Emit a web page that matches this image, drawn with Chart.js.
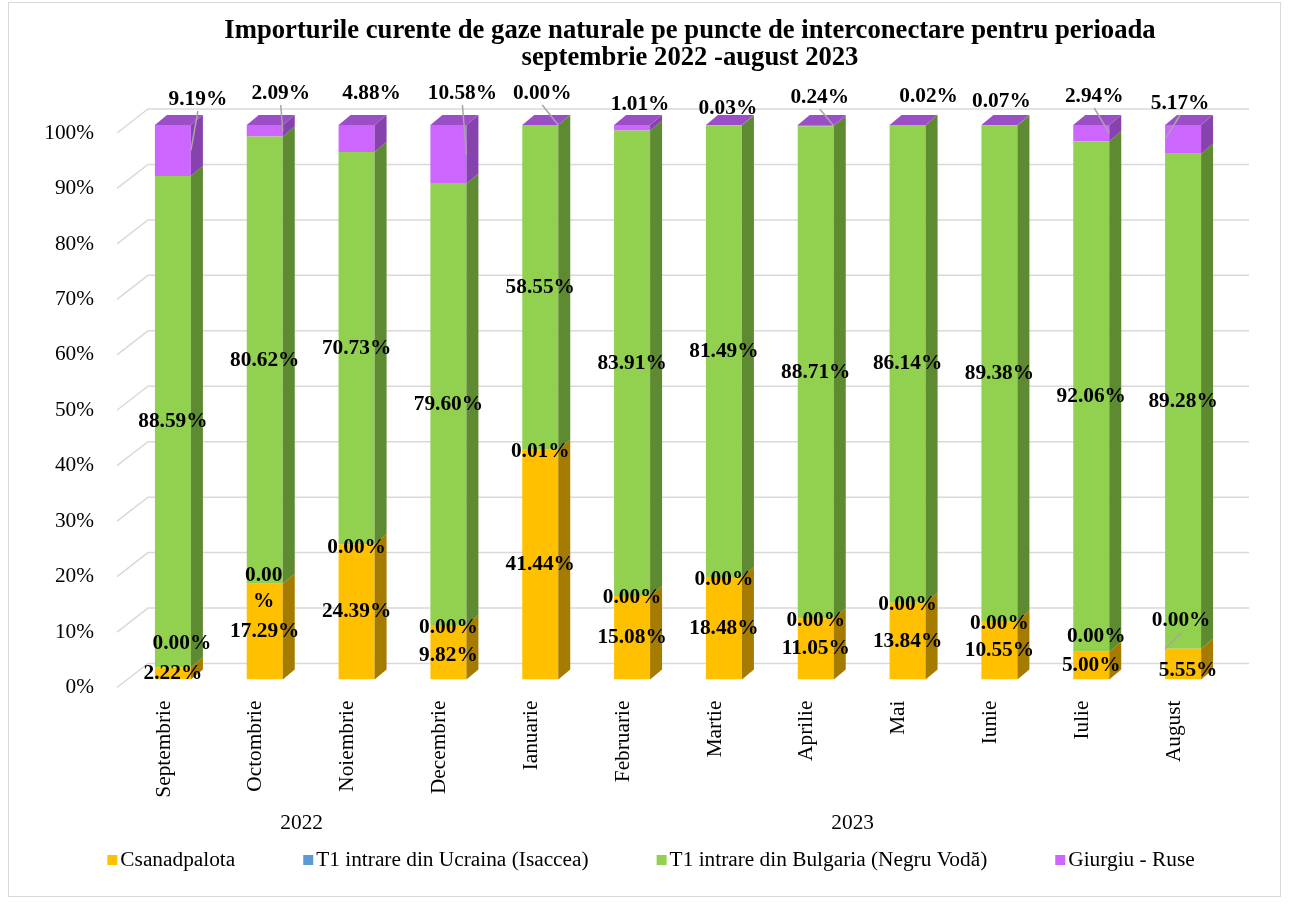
<!DOCTYPE html>
<html><head><meta charset="utf-8">
<script src="https://cdn.jsdelivr.net/npm/chart.js@4.4.0/dist/chart.umd.min.js"></script>
<style>html,body{margin:0;padding:0;background:#fff}#wrap{position:relative;width:1289px;height:904px}</style>
</head><body><div id="wrap"><canvas id="c"></canvas></div>
<script>
// ---------- data ----------
const titleLines = ['Importurile curente de gaze naturale pe puncte de interconectare pentru perioada', 'septembrie 2022 -august 2023'];
const months = ['Septembrie','Octombrie','Noiembrie','Decembrie','Ianuarie','Februarie','Martie','Aprilie','Mai','Iunie','Iulie','August'];
const monthYear = ['2022','2022','2022','2022','2023','2023','2023','2023','2023','2023','2023','2023'];
const seriesNames = ['Csanadpalota','T1 intrare din Ucraina (Isaccea)','T1 intrare din Bulgaria (Negru Vodă)','Giurgiu - Ruse'];
const csanadpalota = [2.22,17.29,24.39,9.82,41.44,15.08,18.48,11.05,13.84,10.55,5.00,5.55];
const ucraina      = [0.00,0.00,0.00,0.00,0.01,0.00,0.00,0.00,0.00,0.00,0.00,0.00];
const bulgaria     = [88.59,80.62,70.73,79.60,58.55,83.91,81.49,88.71,86.14,89.38,92.06,89.28];
const giurgiu      = [9.19,2.09,4.88,10.58,0.00,1.01,0.03,0.24,0.02,0.07,2.94,5.17];
const yMin = 0, yMax = 100, yStep = 10;

// ---------- style ----------
const FONT = "'Liberation Serif','Times New Roman',serif";
const FS = 21.33;
const fronts = ['#FFC000','#5B9BD5','#92D050','#CC66FF'];
const sides  = ['#A67C00','#3B6F9E','#5E8A32','#8643AD'];
const topFace = '#9B4FC7';
const DEPTH = {dx:12, dy:10};
const Z = [0,0,0,0,0,0,0,0,0,0,0,0];
// label placement nudges (pixels) per series
const place = [
  {dx:[0,0,0,0,0,0,0,0,0,0,0,5], dy:[0,0,0,3,0,0,0,0,0,0,0,6]},
  {dx:[9,-1,0,0,0,0,0,0,0,0,5,-2], dy:[-24,5,3,2,2,2,2,2,2,2,-15,-28],
   leader:[0,0,0,0,0,0,0,0,0,0,0,1], wrap:[0,1,0,0,0,0,0,0,0,0,0,0]},
  {dx:Z, dy:Z},
  {top:true, dx:[25,16,15,14,2,8,4,4,21,2,3,-3], dy:[-26,-32,-32,-32,-32,-21,-17,-28,-29,-24,-29,-22],
   leader:[1,1,0,1,1,0,0,1,0,0,1,1]}
];

const deco = {
  id:'deco',
  beforeDatasetsDraw(chart){
    const {ctx, chartArea:a} = chart; const y = chart.scales.y;
    ctx.save(); ctx.strokeStyle='#D9D9D9'; ctx.lineWidth=1.5;
    y.ticks.forEach(t=>{
      const py = y.getPixelForValue(t.value);
      ctx.beginPath();
      ctx.moveTo(a.left-10, py+8);
      ctx.lineTo(a.left+21, py-16);
      ctx.lineTo(a.right+20, py-16);
      ctx.stroke();
    });
    ctx.restore();
  },
  afterDatasetsDraw(chart){
    const ctx = chart.ctx; const n = chart.data.labels.length;
    ctx.save();
    for (let i=0;i<n;i++){
      let topEl=null;
      chart.data.datasets.forEach((ds,di)=>{
        const el = chart.getDatasetMeta(di).data[i];
        const xr = el.x + el.width/2;
        const yt = Math.min(el.y, el.base), yb = Math.max(el.y, el.base);
        if (yb-yt > 0.05){
          ctx.fillStyle = sides[di];
          ctx.beginPath();
          ctx.moveTo(xr, yt); ctx.lineTo(xr+DEPTH.dx, yt-DEPTH.dy);
          ctx.lineTo(xr+DEPTH.dx, yb-DEPTH.dy); ctx.lineTo(xr, yb); ctx.closePath(); ctx.fill();
        }
        topEl = el;
      });
      const xl = topEl.x - topEl.width/2, xr = topEl.x + topEl.width/2, yt = Math.min(topEl.y, topEl.base);
      ctx.fillStyle = topFace;
      ctx.beginPath();
      ctx.moveTo(xl, yt); ctx.lineTo(xl+DEPTH.dx, yt-DEPTH.dy);
      ctx.lineTo(xr+DEPTH.dx, yt-DEPTH.dy); ctx.lineTo(xr, yt); ctx.closePath(); ctx.fill();
    }
    ctx.restore();
  },
  afterDraw(chart){
    const ctx = chart.ctx; const y = chart.scales.y; const x = chart.scales.x;
    ctx.save();
    // data labels
    chart.data.datasets.forEach((ds,di)=>{
      const p = place[di];
      chart.getDatasetMeta(di).data.forEach((el,i)=>{
        const v = ds.data[i];
        const lx = el.x + p.dx[i];
        const ly = (p.top ? y.getPixelForValue(yMax) : (el.y+el.base)/2) + p.dy[i];
        if (p.leader && p.leader[i]){
          const ex = p.dx[i] >= 0 ? el.x + el.width/2 : el.x - el.width/2;
          const ey = (el.y+el.base)/2;
          ctx.strokeStyle='#A6A6A6'; ctx.lineWidth=1.5;
          ctx.beginPath(); ctx.moveTo(lx, ly+12); ctx.lineTo(ex, ey); ctx.stroke();
        }
        ctx.fillStyle='#000'; ctx.font = 'bold '+FS+'px '+FONT;
        ctx.textAlign='center'; ctx.textBaseline='middle';
        if (p.wrap && p.wrap[i]){
          ctx.fillText(v.toFixed(2), lx, ly-13);
          ctx.fillText('%', lx, ly+13);
        } else ctx.fillText(v.toFixed(2)+'%', lx, ly);
      });
    });
    // year group labels
    ctx.font = FS+'px '+FONT; ctx.fillStyle='#000'; ctx.textAlign='center'; ctx.textBaseline='middle';
    const yrs = [...new Set(monthYear)];
    yrs.forEach(yr=>{
      const idx = monthYear.map((m,i)=>m===yr?i:-1).filter(i=>i>=0);
      const cx = (x.getPixelForValue(idx[0]) + x.getPixelForValue(idx[idx.length-1]))/2 - 9;
      ctx.fillText(yr, cx, 823);
    });
    // legend
    const items = chart.data.datasets.map((ds)=>({text:ds.label, color:ds.backgroundColor}));
    const gap = 68, box = 10, boxGap = 3;
    const widths = items.map(it=>box+boxGap+ctx.measureText(it.text).width);
    const total = widths.reduce((a,b)=>a+b,0) + gap*(items.length-1);
    let lx = 651 - total/2; const ly = 860;
    ctx.textAlign='left';
    items.forEach((it,k)=>{
      ctx.fillStyle = it.color; ctx.fillRect(lx, ly-5, box, box);
      ctx.fillStyle = '#000'; ctx.fillText(it.text, lx+box+boxGap, ly);
      lx += widths[k] + gap;
    });
    // title
    ctx.textAlign='center';
    ctx.font = 'bold 26.67px '+FONT; ctx.textBaseline='alphabetic';
    ctx.fillText(titleLines[0], 690, 38);
    ctx.fillText(titleLines[1], 690, 64.5);
    // frame
    ctx.strokeStyle='#D9D9D9'; ctx.lineWidth=1;
    ctx.strokeRect(8.5, 2.5, 1272, 894);
    ctx.restore();
  }
};

const raw = [csanadpalota, ucraina, bulgaria, giurgiu];
new Chart(document.getElementById('c'), {
  type:'bar',
  data:{
    labels: months,
    datasets: raw.map((d,i)=>({label:seriesNames[i], data:d, backgroundColor:fronts[i], borderWidth:0,
      barPercentage:0.392, categoryPercentage:1}))
  },
  options:{
    responsive:true, maintainAspectRatio:false, animation:false,
    layout:{padding:{top:125, bottom:74.5, left:0, right:0}},
    plugins:{
      title:{display:false},
      tooltip:{enabled:false},
      legend:{display:false}
    },
    scales:{
      x:{stacked:true, grid:{display:false, drawTicks:false}, border:{display:false},
         ticks:{maxRotation:90, minRotation:90, autoSkip:false, padding:21, labelOffset:-9, color:'#000', font:{family:FONT, size:FS}},
         afterFit(s){ s.height = 150; }},
      y:{stacked:true, min:yMin, max:yMax, grid:{display:false, drawTicks:false}, border:{display:false},
         ticks:{stepSize:yStep, padding:33, labelOffset:8, color:'#000', font:{family:FONT, size:FS}, callback:v=>v+'%'},
         afterFit(s){ s.width = 127; }},
      yr:{type:'linear', position:'right', display:true, grid:{display:false}, border:{display:false}, ticks:{display:false},
         afterFit(s){ s.width = 60; }}
    }
  },
  plugins:[deco]
});
</script></body></html>
